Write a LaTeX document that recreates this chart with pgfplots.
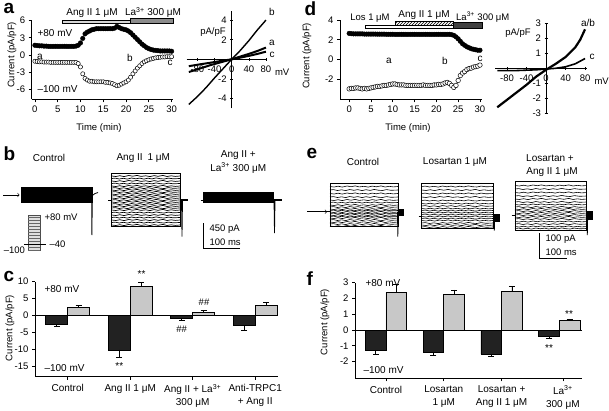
\documentclass[border=0pt]{standalone}
\usepackage{fontspec}
\setmainfont{Liberation Sans}
\usepackage{pgfplots}
\pgfplotsset{compat=1.18}
\usepackage{pgfplotstable}
\usetikzlibrary{patterns}
\definecolor{darkbar}{HTML}{222222}
\definecolor{lightbar}{HTML}{C8C8C8}
\definecolor{anggrey}{HTML}{D6D6D6}
\definecolor{lagrey}{HTML}{8C8C8C}
\newcommand\fs{\fontsize{10}{12}\selectfont}
\newcommand\ft{\fontsize{9.5}{11}\selectfont}
\newcommand\fl{\bfseries\fontsize{19}{19}\selectfont}

% time course, panel a (+80 mV filled, -100 mV open)
\pgfplotstableread{
t I
0 1.7
0.5 1.65
1 1.6
1.5 1.6
2 1.55
2.5 1.55
3 1.5
3.5 1.5
4 1.5
4.5 1.5
5 1.5
5.5 1.5
6 1.5
6.5 1.5
7 1.5
7.5 1.5
8 1.5
8.5 1.5
9 1.55
9.5 1.7
10 2.1
10.5 2.9
11 3.7
11.5 4.0
12 4.2
12.5 4.4
13 4.5
13.5 4.6
14 4.6
14.5 4.6
15 4.6
15.5 4.6
16 4.6
16.5 4.6
17 4.6
17.5 4.7
18 5.0
18.5 4.8
19 4.6
19.5 4.5
20 4.4
20.5 4.2
21 3.9
21.5 3.5
22 3.1
22.5 2.7
23 2.3
23.5 1.9
24 1.6
24.5 1.3
25 1.1
25.5 0.95
26 0.85
26.5 0.8
27 0.75
27.5 0.7
28 0.7
28.5 0.7
29 0.7
29.5 0.7
30 0.65
}\aPos
\pgfplotstableread{
t I
0 -1.1
0.5 -1.15
1 -1.2
1.5 -1.2
2 -1.25
2.5 -1.25
3 -1.25
3.5 -1.3
4 -1.3
4.5 -1.3
5 -1.3
5.5 -1.3
6 -1.3
6.5 -1.3
7 -1.3
7.5 -1.3
8 -1.3
8.5 -1.3
9 -1.3
9.5 -1.5
10 -2.1
10.5 -3.3
11 -4.1
11.5 -4.4
12 -4.6
12.5 -4.6
13 -4.7
13.5 -4.7
14 -4.7
14.5 -4.7
15 -4.7
15.5 -4.8
16 -4.8
16.5 -4.9
17 -5.0
17.5 -5.2
18 -5.4
18.5 -5.3
19 -5.1
19.5 -4.9
20 -4.7
20.5 -4.4
21 -3.9
21.5 -3.3
22 -2.8
22.5 -2.3
23 -1.9
23.5 -1.5
24 -1.2
24.5 -1.0
25 -0.85
25.5 -0.7
26 -0.6
26.5 -0.5
27 -0.45
27.5 -0.4
28 -0.35
28.5 -0.35
29 -0.3
29.5 -0.3
30 -0.3
}\aNeg
% time course, panel d
\pgfplotstableread{
t I
0 2.65
0.5 2.62
1 2.6
1.5 2.6
2 2.6
2.5 2.6
3 2.6
3.5 2.58
4 2.58
4.5 2.58
5 2.58
5.5 2.58
6 2.58
6.5 2.57
7 2.57
7.5 2.57
8 2.57
8.5 2.56
9 2.56
9.5 2.56
10 2.56
10.5 2.55
11 2.55
11.5 2.55
12 2.55
12.5 2.55
13 2.55
13.5 2.55
14 2.55
14.5 2.55
15 2.55
15.5 2.55
16 2.55
16.5 2.55
17 2.55
17.5 2.55
18 2.55
18.5 2.55
19 2.55
19.5 2.55
20 2.55
20.5 2.55
21 2.55
21.5 2.55
22 2.55
22.5 2.55
23 2.55
23.5 2.52
24 2.45
24.5 2.3
25 2.1
25.5 1.85
26 1.6
26.5 1.45
27 1.3
27.5 1.2
28 1.1
28.5 1.05
29 1.0
29.5 0.95
30 0.95
}\dPos
\pgfplotstableread{
t I
0 -2.95
0.5 -2.9
1 -2.9
1.5 -2.85
2 -2.85
2.5 -2.9
3 -2.95
3.5 -2.9
4 -2.95
4.5 -2.9
5 -2.85
5.5 -2.8
6 -2.75
6.5 -2.7
7 -2.7
7.5 -2.65
8 -2.6
8.5 -2.6
9 -2.55
9.5 -2.5
10 -2.45
10.5 -2.45
11 -2.5
11.5 -2.55
12 -2.55
12.5 -2.55
13 -2.6
13.5 -2.6
14 -2.6
14.5 -2.6
15 -2.6
15.5 -2.6
16 -2.6
16.5 -2.6
17 -2.55
17.5 -2.6
18 -2.6
18.5 -2.6
19 -2.6
19.5 -2.55
20 -2.55
20.5 -2.5
21 -2.5
21.5 -2.45
22 -2.35
22.5 -2.3
23 -2.4
23.5 -2.6
24 -2.8
24.5 -2.6
25 -2.1
25.5 -1.6
26 -1.35
26.5 -1.2
27 -1.0
27.5 -0.9
28 -0.85
28.5 -0.75
29 -0.7
29.5 -0.65
30 -0.55
}\dNeg
% wiggle profiles for the current traces (px offsets)
\pgfplotstableread{
u w
0 0
0.06 0.5
0.12 -0.3
0.18 0.6
0.25 -0.5
0.31 0.2
0.37 -0.6
0.43 0.4
0.5 -0.2
0.56 0.6
0.62 -0.4
0.68 0.3
0.75 -0.6
0.81 0.5
0.87 -0.2
0.93 0.4
1 0
}\wigA
\pgfplotstableread{
u w
0 0
0.05 -0.4
0.11 0.5
0.17 -0.2
0.23 0.6
0.29 -0.5
0.35 0.3
0.41 -0.4
0.47 0.6
0.53 -0.3
0.59 0.4
0.65 -0.6
0.71 0.2
0.77 0.5
0.83 -0.4
0.9 0.3
1 0
}\wigB

\pgfplotsset{
  errdark/.style={error bars/.cd, y dir=minus, y explicit,
    error bar style={line width=0.7pt, black},
    error mark options={rotate=90, mark size=3pt, line width=0.7pt, black}},
  errlight/.style={error bars/.cd, y dir=plus, y explicit,
    error bar style={line width=0.7pt, black},
    error mark options={rotate=90, mark size=3pt, line width=0.7pt, black}},
}

\begin{document}
\begin{tikzpicture}[font=\fs]

%================ overlay in pixel coordinates ================
\begin{axis}[at={(0pt,0pt)}, anchor=south west, width=609pt, height=410pt,
  scale only axis, xmin=0, xmax=609, ymin=0, ymax=410, y dir=reverse,
  hide axis, clip=false]
% panel letters
\node[anchor=base west, font=\fl] at (axis cs:0,13.5) {a};
\node[anchor=base west, font=\fl] at (axis cs:0,160) {b};
\node[anchor=base west, font=\fl] at (axis cs:0,281) {c};
\node[anchor=base west, font=\fl] at (axis cs:301,15) {d};
\node[anchor=base west, font=\fl] at (axis cs:303,158.5) {e};
\node[anchor=base west, font=\fl] at (axis cs:303,285) {f};
% axis titles
\node[rotate=90, font=\ft] at (axis cs:12,55) {Current (pA/pF)};
\node[rotate=90, font=\ft] at (axis cs:307,56) {Current (pA/pF)};
\node[rotate=90, font=\ft] at (axis cs:10,328) {Current (pA/pF)};
\node[rotate=90, font=\ft] at (axis cs:325,322) {Current (pA/pF)};
\node[font=\ft] at (axis cs:99,128) {Time (min)};
\node[font=\ft] at (axis cs:408,128) {Time (min)};

% ---- panel a drug bars
\addplot[fill=anggrey, draw=black, line width=0.5pt] coordinates {(62,20)(173,20)(173,23.3)(62,23.3)} --cycle;
\addplot[fill=lagrey, draw=black, line width=0.5pt] coordinates {(130,18.5)(173,18.5)(173,23.3)(130,23.3)} --cycle;
\node at (axis cs:92,13.5) {Ang II 1 μM};
\node at (axis cs:153,12.5) {La\textsuperscript{3+} 300 μM};
\node[anchor=west] at (axis cs:34,33) {+80 mV};
\node[anchor=west] at (axis cs:34,89) {–100 mV};
\node at (axis cs:40,57) {a};
\node at (axis cs:130,58) {b};
\node at (axis cs:170,63) {c};
% panel a IV
\node[font=\ft] at (axis cs:213,32) {pA/pF};
\node[font=\ft, anchor=west] at (axis cs:271.5,72.7) {mV};
\node at (axis cs:272,12) {b};
\node at (axis cs:272,43) {a};
\node at (axis cs:272,55) {c};

% ---- panel d drug bars
\addplot[fill=white, draw=black, line width=0.5pt] coordinates {(365,25.3)(453,25.3)(453,28.3)(365,28.3)} --cycle;
\addplot[fill=white, draw=none] coordinates {(395,21.5)(453,21.5)(453,25.3)(395,25.3)} --cycle;
\addplot[pattern=north east lines, draw=black, line width=0.5pt] coordinates {(395,21.5)(453,21.5)(453,25.3)(395,25.3)} --cycle;
\addplot[fill=darkgray, draw=black, line width=0.5pt] coordinates {(453,22.5)(482.7,22.5)(482.7,28.3)(453,28.3)} --cycle;
\node[font=\ft] at (axis cs:370,18.3) {Los 1 μM};
\node at (axis cs:424,15) {Ang II 1 μM};
\node[font=\ft, anchor=west, inner sep=0pt] at (axis cs:456,17.5) {La\textsuperscript{3+} 300 μM};
\node at (axis cs:389,61) {a};
\node at (axis cs:445,61) {b};
\node at (axis cs:480,59) {c};
% panel d IV
\node[font=\ft] at (axis cs:518,33) {pA/pF};
\node[font=\ft, anchor=west] at (axis cs:591,81.7) {mV};
\node at (axis cs:588,23) {a/b};
\node at (axis cs:592,56.7) {c};

% ---- panel b traces
\node at (axis cs:49,158.3) {Control};
\node at (axis cs:143.3,158.3) {Ang II\enspace 1 μM};
\node at (axis cs:238.3,155) {Ang II +};
\node at (axis cs:238.3,168.3) {La\textsuperscript{3+} 300 μM};
\draw[->, line width=0.6pt] (axis cs:3,195) -- (axis cs:19.5,195);
\addplot[fill=black, draw=black] coordinates {(20.7,186.7)(91.7,186.7)(91.7,201.7)(20.7,201.7)} --cycle;
\addplot[black, line width=0.8pt] coordinates {(91.7,199)(91.9,235)(92.3,200)};
\addplot[black, line width=0.8pt] coordinates {(91.7,196)(95,193.5)(98,192.5)};
% Ang II
\addplot[fill=white, draw=black, line width=0.6pt] coordinates {(111.7,173.3)(180,173.3)(180,226.7)(111.7,226.7)} --cycle;
\pgfplotsinvokeforeach{176,181,186,190,194,198,202,206,210,215,220,225}{
  \addplot[black, line width=0.7pt] table[x expr={111.7+68.3*\thisrow{u}}, y expr={#1+\thisrow{w}}] {\wigA};}
\pgfplotsinvokeforeach{178.5,183.5,188,192,196,200,204,208,212.5,217.5,222.5}{
  \addplot[black, line width=0.7pt] table[x expr={111.7+68.3*\thisrow{u}}, y expr={#1+\thisrow{w}}] {\wigB};}
\addplot[black, line width=0.8pt] coordinates {(108,200)(111.7,200)};
\addplot[black, line width=1.6pt] coordinates {(180,200)(188,200)};
\addplot[black, line width=0.8pt] coordinates {(181.5,200)(182,236.7)(182.5,201)};
% La
\addplot[black, line width=0.8pt] coordinates {(200.5,200)(203,200)};
\addplot[fill=black, draw=black] coordinates {(203,191.7)(273,191.7)(273,201.7)(203,201.7)} --cycle;
\addplot[black, line width=1.2pt] coordinates {(273,200)(282,200)};
\addplot[black, line width=0.8pt] coordinates {(274,200)(274.5,233)(275,201)};
% protocol
\addplot[fill=gray!25, draw=gray!60!black, line width=0.5pt] coordinates {(28,215)(40,215)(40,250)(28,250)} --cycle;
\addplot[pattern=horizontal lines, pattern color=gray!80!black, draw=none] coordinates {(28,215)(40,215)(40,250)(28,250)} --cycle;
\addplot[black, line width=0.6pt] coordinates {(24,244)(46,244)};
\node[anchor=west, font=\ft] at (axis cs:41,217) {+80 mV};
\node[anchor=west, font=\ft] at (axis cs:46,244.5) {–40};
\node[anchor=east, font=\ft] at (axis cs:28.5,250) {–100};
% scale bar b
\addplot[black, line width=0.7pt] coordinates {(203,223)(203,248)(240,248)};
\node[anchor=west, font=\ft] at (axis cs:206,229) {450 pA};
\node[anchor=west, font=\ft] at (axis cs:206,242) {100 ms};

% ---- panel e traces
\node at (axis cs:363,161.7) {Control};
\node at (axis cs:455,161.7) {Losartan 1 μM};
\node at (axis cs:550,158.3) {Losartan +};
\node at (axis cs:552,171.7) {Ang II 1 μM};
\draw[->, line width=0.6pt] (axis cs:307,211.7) -- (axis cs:327,211.7);
% control
\addplot[fill=white, draw=black, line width=0.6pt] coordinates {(330,183)(398,183)(398,226.7)(330,226.7)} --cycle;
\pgfplotsinvokeforeach{186.5,193.5,200,205,209,212,215,218,222,226}{
  \addplot[black, line width=0.6pt] table[x expr={330+68*\thisrow{u}}, y expr={#1+\thisrow{w}}] {\wigA};}
\pgfplotsinvokeforeach{190,197,202.5,207,210.5,213.5,216.5,220,224}{
  \addplot[black, line width=0.6pt] table[x expr={330+68*\thisrow{u}}, y expr={#1+\thisrow{w}}] {\wigB};}
\addplot[black, line width=0.8pt] coordinates {(326,211.7)(330,211.7)};
\addplot[fill=black, draw=black] coordinates {(398,209.5)(403,209.5)(403,215)(398,215)} --cycle;
\addplot[black, line width=0.8pt] coordinates {(397.5,212)(397.8,236.7)(398.2,213)};
% losartan
\addplot[fill=white, draw=black, line width=0.6pt] coordinates {(421.7,183)(493.3,183)(493.3,228)(421.7,228)} --cycle;
\pgfplotsinvokeforeach{186.5,193.5,200.5,206,210.5,214.5,218.5,223,227}{
  \addplot[black, line width=0.6pt] table[x expr={421.7+71.6*\thisrow{u}}, y expr={#1+\thisrow{w}}] {\wigB};}
\pgfplotsinvokeforeach{190,197,203.5,208.5,212.5,216.5,220.5,225}{
  \addplot[black, line width=0.6pt] table[x expr={421.7+71.6*\thisrow{u}}, y expr={#1+\thisrow{w}}] {\wigA};}
\addplot[black, line width=0.8pt] coordinates {(418.5,216.7)(421.7,216.7)};
\addplot[fill=black, draw=black] coordinates {(493.3,214.5)(499,214.5)(499,221)(493.3,221)} --cycle;
\addplot[black, line width=0.8pt] coordinates {(494,216)(494.3,230.7)(494.7,217)};
% losartan + Ang II
\addplot[fill=white, draw=black, line width=0.6pt] coordinates {(515,181.7)(586.7,181.7)(586.7,230)(515,230)} --cycle;
\pgfplotsinvokeforeach{185.5,192.5,199,204.5,209,213,217,221.5,226.5}{
  \addplot[black, line width=0.6pt] table[x expr={515+71.7*\thisrow{u}}, y expr={#1+\thisrow{w}}] {\wigA};}
\pgfplotsinvokeforeach{189,196,202,207,211,215,219,224,228.5}{
  \addplot[black, line width=0.6pt] table[x expr={515+71.7*\thisrow{u}}, y expr={#1+\thisrow{w}}] {\wigB};}
\addplot[black, line width=0.8pt] coordinates {(511.5,215)(515,215)};
\addplot[fill=black, draw=black] coordinates {(586.7,211)(592,211)(592,219)(586.7,219)} --cycle;
\addplot[black, line width=0.8pt] coordinates {(587,214)(587.3,235)(587.7,215)};
% scale bar e
\addplot[black, line width=0.7pt] coordinates {(539.3,233.3)(539.3,258.3)(566.7,258.3)};
\node[anchor=west, font=\ft] at (axis cs:542,239) {100 pA};
\node[anchor=west, font=\ft] at (axis cs:542,252.3) {100 ms};

% ---- panel c / f annotations
\node[anchor=west] at (axis cs:41,289.3) {+80 mV};
\node[anchor=west] at (axis cs:41,368.3) {–100 mV};
\node at (axis cs:141.5,274) {**};
\node at (axis cs:119.3,366) {**};
\node[font=\ft] at (axis cs:204,302.5) {\#\#};
\node[font=\ft] at (axis cs:181.7,329) {\#\#};
\node[anchor=west] at (axis cs:362,283) {+80 mV};
\node[anchor=west] at (axis cs:360,370) {–100 mV};
\node at (axis cs:569,314) {**};
\node at (axis cs:549,348) {**};
\end{axis}

%================ panel a: time course ================
\begin{axis}[at={(31.7pt,310.5pt)}, anchor=south west, scale only axis,
  width=141.3pt, height=78.8pt, xmin=-0.7, xmax=30.3, ymin=-7.8, ymax=6,
  axis lines=left, axis line style={-, line width=0.7pt},
  tick align=outside, major tick length=3pt, tick style={black, line width=0.7pt},
  xtick={0,5,10,15,20,25,30}, xticklabels={0,5,10,15,20,25,30},
  ytick={-6,-3,0,3,6}, yticklabels={-6,-3,0,3,6},
  ticklabel style={font=\ft}, clip=false]
\addplot[only marks, mark=*, mark size=2.3pt, black] table {\aPos};
\addplot[only marks, mark=*, mark size=2.1pt, mark options={fill=white, draw=black, line width=0.5pt}] table {\aNeg};
\end{axis}

%================ panel a: IV ================
\begin{axis}[at={(186.7pt,301.7pt)}, anchor=south west, scale only axis,
  width=80.1pt, height=97pt, xmin=-105, xmax=82, ymin=-5, ymax=4.9,
  axis lines=middle, axis line style={-, line width=0.7pt},
  tick align=center, major tick length=3pt, tick style={black, line width=0.6pt},
  hide obscured x ticks=false,
  xtick={-80,-40,0,40,80}, xticklabels={-80,-40,0,40,80},
  ytick={-4,-2,2,4}, yticklabels={-4,-2,2,4},
  ticklabel style={font=\ft}, xticklabel style={yshift=-2pt}, clip=false]
\addplot[black, line width=1.4pt] coordinates {(-100,-4.6)(-80,-3.8)(-60,-2.9)(-40,-1.9)(-20,-0.95)(0,0)(20,0.9)(40,1.9)(60,3.0)(80,4.0)};
\addplot[black, line width=2pt] coordinates {(-100,-1.3)(-75,-0.95)(-50,-0.6)(-25,-0.3)(0,0)(20,0.28)(40,0.55)(60,0.85)(80,1.2)};
\addplot[black, line width=2pt] coordinates {(-100,-0.7)(-75,-0.52)(-50,-0.35)(-25,-0.17)(0,0)(20,0.17)(40,0.35)(60,0.55)(80,0.78)};
\end{axis}

%================ panel d: time course ================
\begin{axis}[at={(340pt,310.7pt)}, anchor=south west, scale only axis,
  width=141.7pt, height=79.3pt, xmin=-2.1, xmax=30.4, ymin=-4, ymax=4,
  axis lines=left, axis line style={-, line width=0.7pt},
  tick align=outside, major tick length=3pt, tick style={black, line width=0.7pt},
  xtick={0,5,10,15,20,25,30}, xticklabels={0,5,10,15,20,25,30},
  ytick={-2,0,2,4}, yticklabels={-2,0,2,4},
  ticklabel style={font=\ft}, clip=false]
\addplot[only marks, mark=*, mark size=2.3pt, black] table {\dPos};
\addplot[only marks, mark=*, mark size=2.3pt, mark options={fill=white, draw=black, line width=0.5pt}] table {\dNeg};
\end{axis}

%================ panel d: IV ================
\begin{axis}[at={(495.3pt,296.7pt)}, anchor=south west, scale only axis,
  width=91.2pt, height=90.75pt, xmin=-104, xmax=83, ymin=-3, ymax=3.05,
  axis lines=middle, axis line style={-, line width=0.7pt},
  tick align=center, major tick length=3pt, tick style={black, line width=0.6pt},
  hide obscured x ticks=false,
  xtick={-80,-40,0,40,80}, xticklabels={-80,-40,0,40,80},
  ytick={-3,-2,-1,1,2,3}, yticklabels={-3,-2,-1,1,2,3},
  ticklabel style={font=\ft}, xticklabel style={yshift=-2pt}, clip=false]
\addplot[black, line width=2.2pt] coordinates {(-100,-2.6)(-80,-2.1)(-60,-1.6)(-40,-1.1)(-20,-0.55)(0,-0.1)(20,0.3)(40,0.75)(60,1.4)(70,1.9)(80,2.6)};
\addplot[black, line width=1.6pt] coordinates {(-100,-0.15)(-60,-0.15)(-20,-0.1)(0,-0.05)(20,0)(40,0.1)(60,0.3)(80,0.65)};
\end{axis}

%================ panel c: bars (bars at group centre -/+ half a bar) ================
\begin{axis}[at={(35pt,33.3pt)}, anchor=south west, scale only axis,
  width=243pt, height=95pt, xmin=-0.523, xmax=3.365, ymin=-18, ymax=10,
  axis lines=left, axis line style={-, line width=0.7pt},
  tick align=outside, major tick length=3pt, tick style={black, line width=0.7pt},
  xtick={0,1,2,3},
  xticklabels={Control, Ang II 1 μM, {Ang II + La\textsuperscript{3+}\\300 μM}, {Anti-TRPC1\\+ Ang II}},
  xticklabel style={align=center, font=\fontsize{10}{13}\selectfont, yshift=-1pt},
  ytick={-15,-10,-5,0,5,10}, yticklabels={-15,-10,-5,0,5,10},
  ticklabel style={font=\ft}, clip=false]
\addplot[black, line width=0.7pt] coordinates {(-0.523,0)(3.365,0)};
\addplot[ybar, bar width=22pt, bar shift=0pt, fill=darkbar, draw=black, line width=0.7pt, errdark]
  coordinates {(-0.176,-2.7) +- (0,0.5) (0.824,-10.1) +- (0,2.1) (1.824,-0.8) +- (0,0.7) (2.824,-3.0) +- (0,1.4)};
\addplot[ybar, bar width=22pt, bar shift=0pt, fill=lightbar, draw=black, line width=0.7pt, errlight]
  coordinates {(0.176,2.5) +- (0,0.4) (1.176,8.5) +- (0,1.2) (2.176,0.9) +- (0,0.6) (3.176,2.9) +- (0,1.1)};
\end{axis}

%================ panel f: bars ================
\begin{axis}[at={(355pt,31.7pt)}, anchor=south west, scale only axis,
  width=226.7pt, height=95.6pt, xmin=-0.536, xmax=3.386, ymin=-3.06, ymax=3,
  axis lines=left, axis line style={-, line width=0.7pt},
  tick align=outside, major tick length=3pt, tick style={black, line width=0.7pt},
  xtick={0,1,2,3.06},
  xticklabels={Control, {Losartan\\1 μM}, {Losartan +\\Ang II 1 μM}, {La\textsuperscript{3+}\\300 μM}},
  xticklabel style={align=center, font=\fontsize{10}{13}\selectfont, yshift=-1pt},
  ytick={-2,-1,0,1,2,3}, yticklabels={-2,-1,0,1,2,3},
  ticklabel style={font=\ft}, clip=false]
\addplot[black, line width=0.7pt] coordinates {(-0.536,0)(3.386,0)};
\addplot[ybar, bar width=20.7pt, bar shift=0pt, fill=darkbar, draw=black, line width=0.7pt, errdark]
  coordinates {(-0.179,-1.31) +- (0,0.21) (0.821,-1.44) +- (0,0.15) (1.821,-1.52) +- (0,0.13) (2.821,-0.38) +- (0,0.15)};
\addplot[ybar, bar width=20.7pt, bar shift=0pt, fill=lightbar, draw=black, line width=0.7pt, errlight]
  coordinates {(0.179,2.39) +- (0,0.53) (1.179,2.28) +- (0,0.26) (2.179,2.43) +- (0,0.32) (3.179,0.63) +- (0,0.07)};
\end{axis}

\pgfresetboundingbox
\path (0pt,0pt) rectangle (609pt,410pt);
\end{tikzpicture}
\end{document}
